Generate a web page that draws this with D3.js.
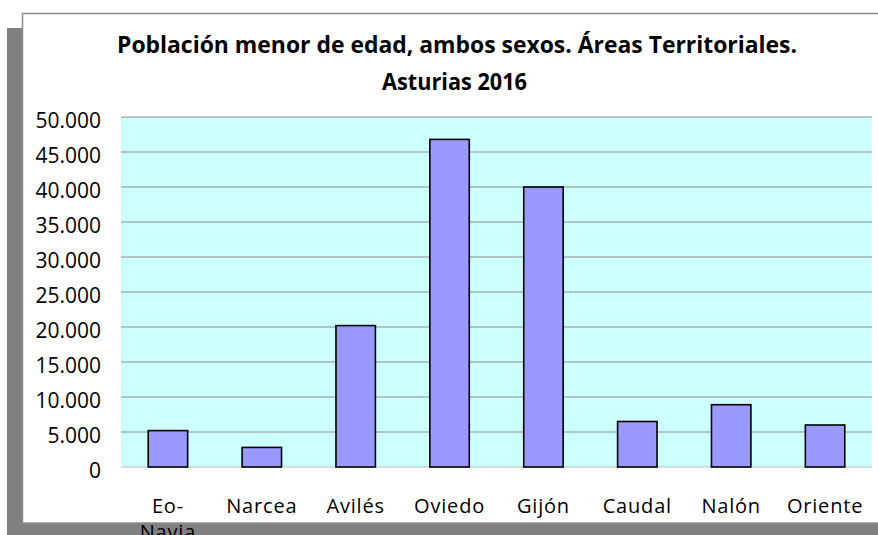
<!DOCTYPE html>
<head>
  <meta charset="utf-8">
  <script src="https://d3js.org/d3.v7.min.js"></script>
  <style>
    body { margin: 0; background: #fff; }
    svg { display: block; font-family: "Open Sans", sans-serif; }
  </style>
</head>
<body>
  <svg width="878" height="535"></svg>
  <script>
    var titleLines = ['Población menor de edad, ambos sexos. Áreas Territoriales.', 'Asturias 2016'];
    var areas = ['Eo-Navia', 'Narcea', 'Avilés', 'Oviedo', 'Gijón', 'Caudal', 'Nalón', 'Oriente'];
    var menores = [5200, 2800, 20200, 46800, 40000, 6500, 8900, 6000];
    var yTicks = [0, 5000, 10000, 15000, 20000, 25000, 30000, 35000, 40000, 45000, 50000];

    var svg = d3.select('svg');
    var margin = {left: 121, right: 6, top: 117, bottom: 68};
    var W = 878, H = 535;

    // shadow + frame
    svg.append('rect')
      .attr('x', 7).attr('y', 28)
      .attr('width', 900).attr('height', 530)
      .attr('fill', '#808080');
    svg.append('rect')
      .attr('x', 22.5).attr('y', 13.5)
      .attr('width', 900).attr('height', 509.5)
      .attr('fill', '#fff')
      .attr('stroke', '#8c8c8c')
      .attr('stroke-width', 1.5);

    // title, squeezed to the reference widths
    svg.append('text')
      .attr('x', 117).attr('y', 53)
      .attr('font-weight', 700).attr('font-size', 23)
      .attr('textLength', 680).attr('lengthAdjust', 'spacingAndGlyphs')
      .text(titleLines[0]);
    svg.append('text')
      .attr('x', 382).attr('y', 90)
      .attr('font-weight', 700).attr('font-size', 23)
      .attr('textLength', 145).attr('lengthAdjust', 'spacingAndGlyphs')
      .text(titleLines[1]);

    var x = d3.scaleBand()
      .domain(areas)
      .range([margin.left, W - margin.right])
      .paddingInner(0.58).paddingOuter(0.29);
    var y = d3.scaleLinear()
      .domain([0, 50000])
      .range([H - margin.bottom, margin.top]);

    var g = svg.append('g');
    g.append('rect')
      .attr('x', margin.left).attr('y', margin.top)
      .attr('width', W - margin.right - margin.left)
      .attr('height', y(0) - margin.top)
      .attr('fill', '#ccffff');

    g.selectAll('line.grid')
      .data(yTicks).enter().append('line')
      .attr('class', 'grid')
      .attr('x1', margin.left).attr('x2', W - margin.right)
      .attr('y1', function(d) { return y(d); })
      .attr('y2', function(d) { return y(d); })
      .attr('stroke', function(d) { return d === 0 ? '#bbbbbb' : '#8c8c8c'; })
      .attr('stroke-width', 1.2);

    g.selectAll('rect.bar')
      .data(menores).enter().append('rect')
      .attr('class', 'bar')
      .attr('x', function(d, i) { return x(areas[i]); })
      .attr('y', function(d) { return y(d); })
      .attr('width', x.bandwidth())
      .attr('height', function(d) { return y(0) - y(d); })
      .attr('fill', '#9999ff')
      .attr('stroke', '#000')
      .attr('stroke-width', 1.6);

    // y axis labels
    var yAxis = d3.axisLeft(y)
      .tickValues(yTicks)
      .tickSize(0).tickPadding(20)
      .tickFormat(function(d) { return d3.format(',')(d).replace(/,/g, '.'); });
    svg.append('g')
      .attr('transform', 'translate(' + margin.left + ',4)')
      .call(yAxis)
      .call(function(a) { a.select('.domain').remove(); })
      .selectAll('text')
      .attr('font-family', '"Open Sans", sans-serif')
      .attr('font-size', 21)
      .attr('fill', '#000');

    // x labels (Eo-Navia wraps)
    var xl = svg.append('g').selectAll('text')
      .data(areas).enter().append('text')
      .attr('x', function(d) { return x(d) + x.bandwidth() / 2; })
      .attr('y', 513)
      .attr('text-anchor', 'middle')
      .attr('font-size', 20)
      .attr('letter-spacing', 0.8)
      .attr('fill', '#000');
    xl.each(function(d) {
      var t = d3.select(this);
      var parts = d.indexOf('-') > 0 ? [d.split('-')[0] + '-', d.split('-')[1]] : [d];
      parts.forEach(function(p, k) {
        t.append('tspan')
          .attr('x', x(d) + x.bandwidth() / 2)
          .attr('dy', k === 0 ? 0 : 26)
          .text(p);
      });
    });
  </script>
</body>
